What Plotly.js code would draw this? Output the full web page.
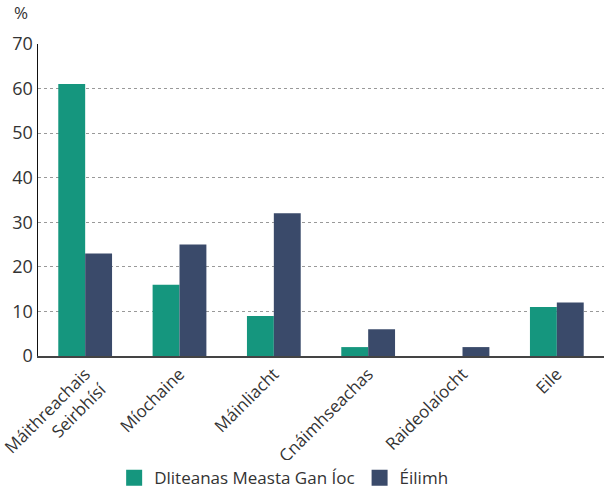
<!DOCTYPE html>
<html><head><meta charset="utf-8">
<script src="https://cdn.plot.ly/plotly-3.0.1.min.js"></script>
<style>html,body{margin:0;padding:0;background:#fff}#c{width:604px;height:490px}</style>
</head><body><div id="c"></div>
<script>
const categories = ["Máithreachais<br>Seirbhísí", "Míochaine", "Máinliacht", "Cnáimhseachas", "Raideolaíocht", "Eile"];
const seriesNames = ["Dliteanas Measta Gan Íoc", "Éilimh"];
const liabilities = [61, 16, 9, 2, 0, 11];
const claims = [23, 25, 32, 6, 2, 12];
const yTicks = [0, 10, 20, 30, 40, 50, 60, 70];
const colors = ["#15967e", "#3a4a6a"];

const font = {family: "Open Sans, Noto Sans, sans-serif", color: "#333", size: 16};
const traces = [
  {type: "bar", name: seriesNames[0], x: categories, y: liabilities, showlegend: false,
   marker: {color: colors[0], line: {width: 0}}, hoverinfo: "none"},
  {type: "bar", name: seriesNames[1], x: categories, y: claims, showlegend: false,
   marker: {color: colors[1], line: {width: 0}}, hoverinfo: "none"},
  {type: "scatter", mode: "markers", name: seriesNames[0], x: [categories[0]], y: [null],
   marker: {symbol: "square", size: 16, color: colors[0]}, hoverinfo: "none"},
  {type: "scatter", mode: "markers", name: seriesNames[1], x: [categories[0]], y: [null],
   marker: {symbol: "square", size: 16, color: colors[1]}, hoverinfo: "none"}
];
const layout = {
  width: 604, height: 490,
  margin: {l: 38, r: 0, t: 44, b: 134, autoexpand: false},
  barmode: "group", bargap: 0.43, bargroupgap: 0,
  font: font,
  showlegend: true,
  legend: {orientation: "h", xref: "container", x: 0.189, xanchor: "left", yref: "container", y: 0.024, yanchor: "middle",
           font: {size: 17, color: "#333"}, itemwidth: 30, traceorder: "normal", itemsizing: "trace"},
  xaxis: {tickangle: -45, showgrid: false, showline: true, linecolor: "#444", linewidth: 1.5,
          ticks: "", tickfont: {size: 17, color: "#333"}, zeroline: false, automargin: false},
  yaxis: {range: [0, 70], tickvals: yTicks, showgrid: true, gridcolor: "#999", griddash: "dot",
          gridwidth: 1, showline: true, linecolor: "#111", linewidth: 1.5, ticks: "",
          tickfont: {size: 18, color: "#333"}, zeroline: false, automargin: false},
  annotations: [{text: "%", xref: "paper", yref: "paper", x: -0.03, y: 1.1, showarrow: false,
                 xanchor: "center", yanchor: "middle", font: {size: 17, color: "#333"}}]
};
Plotly.newPlot("c", traces, layout, {displayModeBar: false, staticPlot: true});
</script></body></html>
